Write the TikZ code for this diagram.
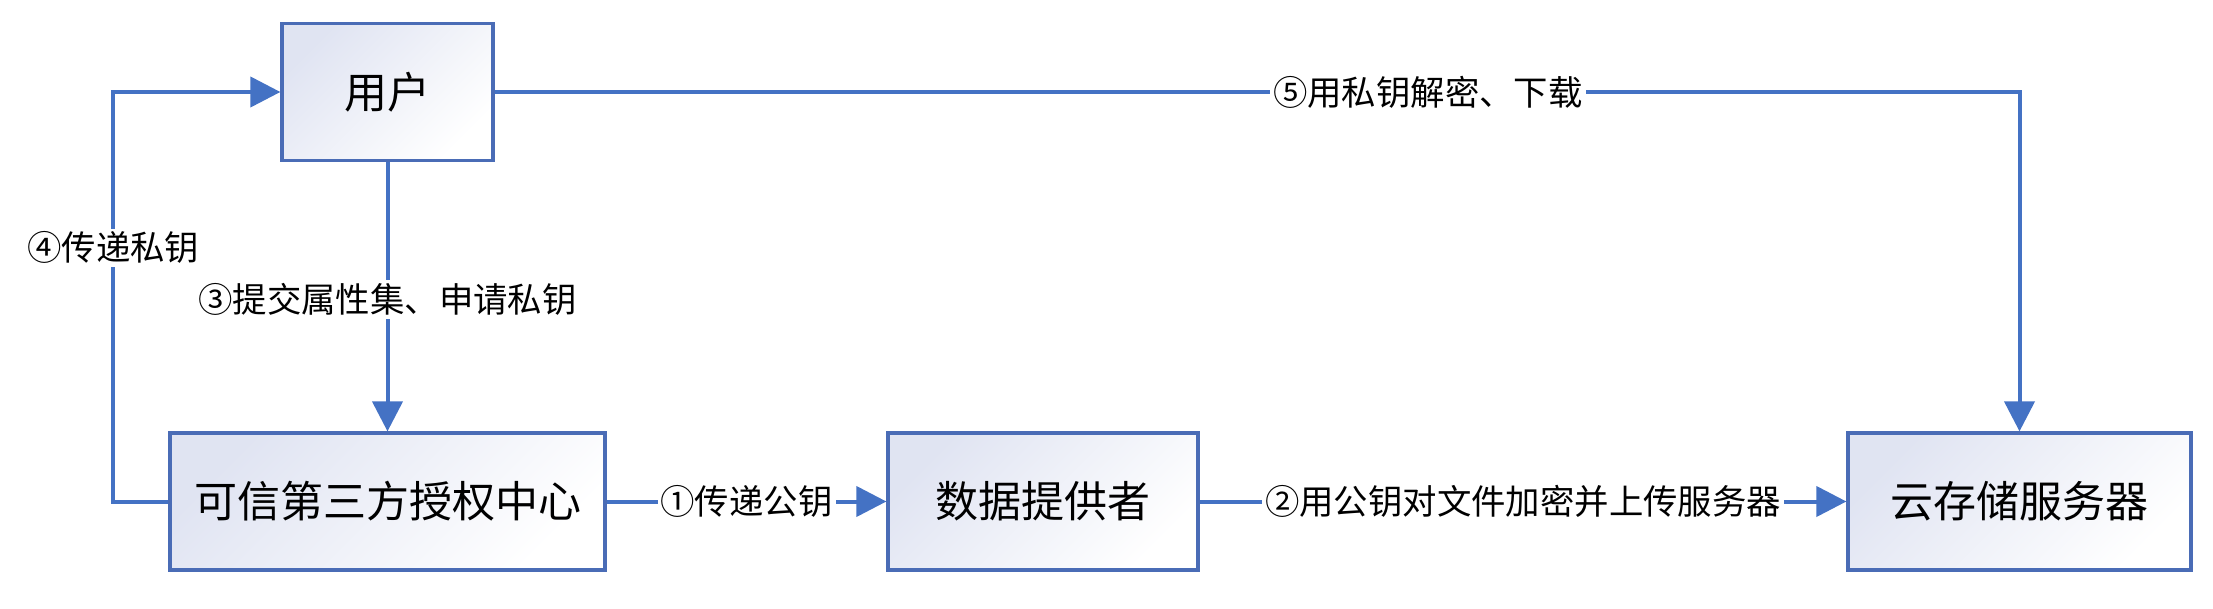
\documentclass[tikz,border=0pt]{standalone}
\usepackage{fontspec}
\newfontfamily\cjk{Noto Sans CJK SC}
\usepackage{tikz}
\usetikzlibrary{arrows.meta}
\definecolor{lineblue}{HTML}{4472C4}
\definecolor{boxedge}{HTML}{4A6CB6}
\definecolor{boxshade}{HTML}{E0E4F2}
\tikzset{
    basenode/.style = {align=center, inner sep=2pt, text centered, font=\cjk},
    node_box/.style = {basenode, rectangle, draw=boxedge, line width=1.6pt, top color=boxshade, bottom color=white, shading angle=45, minimum height=68.5pt, font=\cjk\fontsize{21.5}{24}\selectfont},
    node_label/.style = {basenode, fill=white, inner sep=1.5pt, font=\cjk\fontsize{17.2}{20}\selectfont},
    flow/.style = {-{Triangle[length=15pt,width=15pt]}, draw=lineblue, line width=2pt}
}
\begin{document}
\begin{tikzpicture}[x=0.5pt, y=-0.5pt]
                \useasboundingbox (0,0) rectangle (2213,609);
                \node [node_box, minimum width=105.5pt] (user) at (387.5,92) {用户}; % TOP
                \node [node_box, minimum width=217.5pt] (ta) at (387.5,501.5) {可信第三方授权中心};
                \node [node_box, minimum width=155pt] (dp) at (1043,501.5) {数据提供者};
                \node [node_box, minimum width=171.5pt] (cs) at (2019.5,501.5) {云存储服务器};
                \draw [flow] (ta) -- node [node_label] {①传递公钥} (dp);
                \draw [flow] (dp) -- node [node_label] {②用公钥对文件加密并上传服务器} (cs);
                \draw [flow] (user) -- node [node_label, pos=0.51] {③提交属性集、申请私钥} (ta);
                \draw [flow] (ta.west) -- ++(-55,0) |- node [node_label, pos=0.31] {④传递私钥} (user.west);
                \draw [flow] (user.east) -| node [node_label, pos=0.306] {⑤用私钥解密、下载} (cs.north);
            \end{tikzpicture}
\end{document}
